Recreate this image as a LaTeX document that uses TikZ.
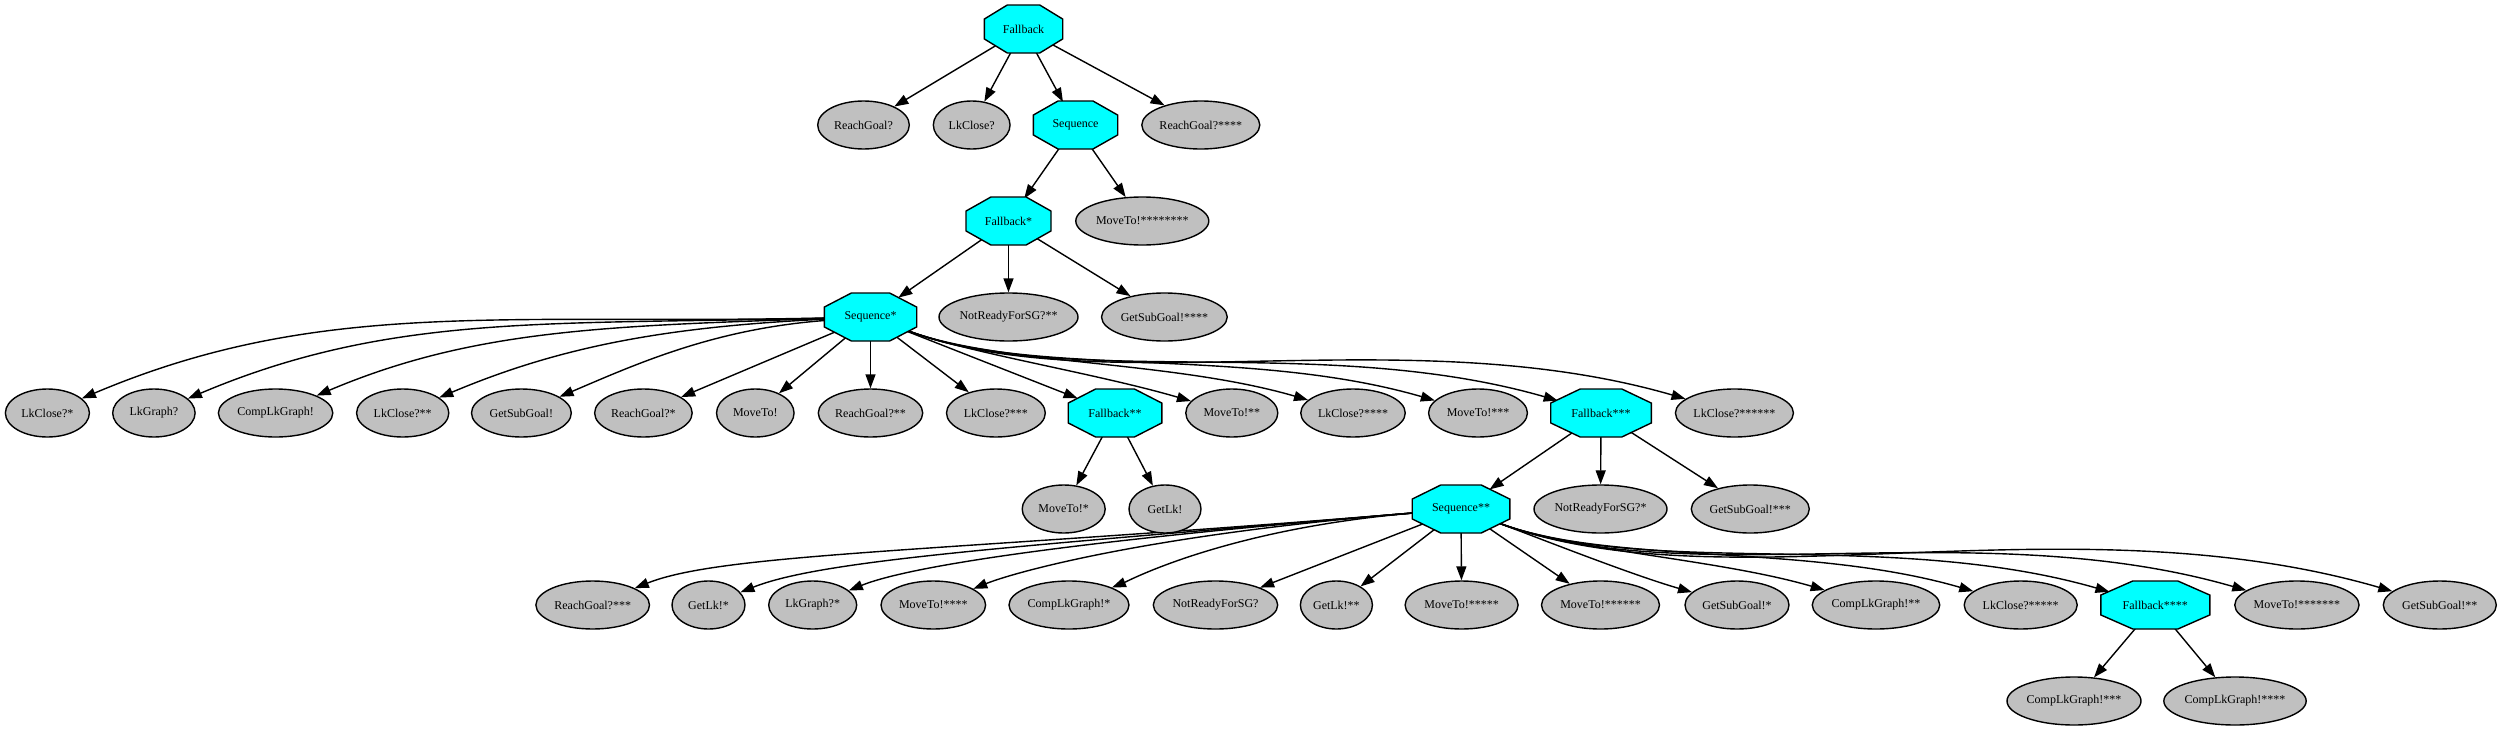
\documentclass[tikz,border=0pt]{standalone}
\usepackage{fontspec}
\setmainfont{Liberation Serif}
\usetikzlibrary{arrows.meta,shapes.geometric,backgrounds}
\definecolor{leafgray}{RGB}{192,192,192}
\definecolor{octcyan}{RGB}{0,255,255}
\tikzset{
  leaf/.style={ellipse, draw=black, line width=1.4pt, fill=leafgray, minimum height=48pt, inner sep=0pt, font=\fontsize{12}{14}\selectfont},
  octnode/.style={ellipse, draw=none, minimum height=48pt, inner sep=0pt, font=\fontsize{12}{14}\selectfont},
  octshape/.style={draw=black, line width=1.4pt, fill=octcyan, line join=miter},
  conn/.style={draw=black, line width=1.4pt, -{Triangle[length=14pt,width=10pt]}},
}
\newcommand\mkleaf[5]{\node[leaf, minimum width=#4pt] (#1) at (#2,#3) {#5};}
\newcommand\mkoct[5]{%
  \filldraw[octshape] ({#2-0.5*#4},{#3+9.94}) -- ({#2-0.207*#4},{#3+24}) -- ({#2+0.207*#4},{#3+24}) -- ({#2+0.5*#4},{#3+9.94}) -- ({#2+0.5*#4},{#3-9.94}) -- ({#2+0.207*#4},{#3-24}) -- ({#2-0.207*#4},{#3-24}) -- ({#2-0.5*#4},{#3-9.94}) -- cycle;
  \node[octnode, minimum width=#4pt] (#1) at (#2,#3) {#5};}
\begin{document}
\begin{tikzpicture}[x=1pt,y=1pt]
\useasboundingbox (0,0) rectangle (2501,-731);
% row 0
\mkoct{fb0}{1023.5}{-29}{78.4}{Fallback}
% row 1
\mkleaf{rg0}{863.5}{-125}{91.6}{ReachGoal?}
\mkleaf{lc0}{971.7}{-125}{76.7}{LkClose?}
\mkoct{sq0}{1075.5}{-125}{84.4}{Sequence}
\mkleaf{rg4}{1200.8}{-125}{118}{ReachGoal?****}
% row 2
\mkoct{fb1}{1008.5}{-221}{85}{Fallback*}
\mkleaf{mt8}{1142.3}{-221}{133}{MoveTo!********}
% row 3
\mkoct{sq1}{870.5}{-317}{92.4}{Sequence*}
\mkleaf{nr2}{1008.5}{-317}{139}{NotReadyForSG?**}
\mkleaf{gs4}{1164.4}{-317}{125.7}{GetSubGoal!****}
% row 4
\mkleaf{lc1}{47.4}{-413}{84}{LkClose?*}
\mkleaf{lg0}{153.9}{-413}{82.4}{LkGraph?}
\mkleaf{cg0}{275.6}{-413}{114.4}{CompLkGraph!}
\mkleaf{lc2}{402.7}{-413}{92.2}{LkClose?**}
\mkleaf{gs0}{521.4}{-413}{99.8}{GetSubGoal!}
\mkleaf{rg1}{643.4}{-413}{97.5}{ReachGoal?*}
\mkleaf{mt0}{755.3}{-413}{77.5}{MoveTo!}
\mkleaf{rg2}{870.5}{-413}{104.4}{ReachGoal?**}
\mkleaf{lc3}{995.9}{-413}{98.8}{LkClose?***}
\mkoct{fb2}{1115}{-413}{93.6}{Fallback**}
\mkleaf{mt2}{1231.8}{-413}{92}{MoveTo!**}
\mkleaf{lc4}{1353}{-413}{104.5}{LkClose?****}
\mkleaf{mt3}{1478}{-413}{98.8}{MoveTo!***}
\mkoct{fb3}{1601}{-413}{100.6}{Fallback***}
\mkleaf{lc6}{1734.4}{-413}{118}{LkClose?******}
% row 5
\mkleaf{mt1}{1063.7}{-509}{83}{MoveTo!*}
\mkleaf{gl0}{1165}{-509}{72}{GetLk!}
\mkoct{sq2}{1461}{-509}{97.6}{Sequence**}
\mkleaf{nr1}{1600.5}{-509}{133}{NotReadyForSG?*}
\mkleaf{gs3}{1750.3}{-509}{118}{GetSubGoal!***}
% row 6
\mkleaf{rg3}{592.7}{-605}{113.6}{ReachGoal?***}
\mkleaf{gl1}{708.5}{-605}{73}{GetLk!*}
\mkleaf{lg1}{812.7}{-605}{88}{LkGraph?*}
\mkleaf{mt4}{933.3}{-605}{104.6}{MoveTo!****}
\mkleaf{cg1}{1069}{-605}{120}{CompLkGraph!*}
\mkleaf{nr0}{1215.5}{-605}{124.4}{NotReadyForSG?}
\mkleaf{gl2}{1336.4}{-605}{72}{GetLk!**}
\mkleaf{mt5}{1461.6}{-605}{113}{MoveTo!*****}
\mkleaf{mt6}{1600.5}{-605}{118}{MoveTo!******}
\mkleaf{gs1}{1737}{-605}{104}{GetSubGoal!*}
\mkleaf{cg2}{1876}{-605}{127.5}{CompLkGraph!**}
\mkleaf{lc5}{2020.7}{-605}{113}{LkClose?*****}
\mkoct{fb4}{2155.3}{-605}{109}{Fallback****}
\mkleaf{mt7}{2296.9}{-605}{124.3}{MoveTo!*******}
\mkleaf{gs2}{2439.8}{-605}{113}{GetSubGoal!**}
% row 7
\mkleaf{cg3}{2074}{-701}{134}{CompLkGraph!***}
\mkleaf{cg4}{2235}{-701}{141}{CompLkGraph!****}

\begin{pgfonlayer}{background}
% Fallback
\draw[conn] (fb0) -- (rg0);
\draw[conn] (fb0) -- (lc0);
\draw[conn] (fb0) -- (sq0);
\draw[conn] (fb0) -- (rg4);
% Sequence
\draw[conn] (sq0) -- (fb1);
\draw[conn] (sq0) -- (mt8);
% Fallback*
\draw[conn] (fb1) -- (sq1);
\draw[conn] (fb1) -- (nr2);
\draw[conn] (fb1) -- (gs4);
% Sequence*
\draw[conn] (sq1) .. controls +(-370,-8) and +(272,115) .. (lc1);
\draw[conn] (sq1) .. controls +(-322,-8) and +(236,100) .. (lg0);
\draw[conn] (sq1) .. controls +(-268,-9) and +(196,83) .. (cg0);
\draw[conn] (sq1) .. controls +(-210,-10) and +(154,65) .. (lc2);
\draw[conn] (sq1) .. controls +(-157,-12) and +(115,49) .. (gs0);
\draw[conn] (sq1) -- (rg1);
\draw[conn] (sq1) -- (mt0);
\draw[conn] (sq1) -- (rg2);
\draw[conn] (sq1) -- (lc3);
\draw[conn] (sq1) -- (fb2);
\draw[conn] (sq1) .. controls +(98,-36) and +(-137,40) .. (mt2);
\draw[conn] (sq1) .. controls +(130,-48) and +(-183,53) .. (lc4);
\draw[conn] (sq1) .. controls +(164,-61) and +(-231,67) .. (mt3);
\draw[conn] (sq1) .. controls +(197,-73) and +(-278,80) .. (fb3);
\draw[conn] (sq1) .. controls +(233,-86) and +(-328,95) .. (lc6);
% Fallback**
\draw[conn] (fb2) -- (mt1);
\draw[conn] (fb2) -- (gl0);
% Fallback***
\draw[conn] (fb3) -- (sq2);
\draw[conn] (fb3) -- (nr1);
\draw[conn] (fb3) -- (gs3);
% Sequence**
\draw[conn] (sq2) .. controls +(-521,-43) and +(130,52) .. (rg3);
\draw[conn] (sq2) .. controls +(-452,-38) and +(113,45) .. (gl1);
\draw[conn] (sq2) .. controls +(-389,-32) and +(97,39) .. (lg1);
\draw[conn] (sq2) .. controls +(-317,-26) and +(79,32) .. (mt4);
\draw[conn] (sq2) .. controls +(-235,-20) and +(59,24) .. (cg1);
\draw[conn] (sq2) -- (nr0);
\draw[conn] (sq2) -- (gl2);
\draw[conn] (sq2) -- (mt5);
\draw[conn] (sq2) -- (mt6);
\draw[conn] (sq2) .. controls +(75,-28) and +(-105,30) .. (gs1);
\draw[conn] (sq2) .. controls +(112,-42) and +(-158,46) .. (cg2);
\draw[conn] (sq2) .. controls +(151,-56) and +(-213,62) .. (lc5);
\draw[conn] (sq2) .. controls +(187,-69) and +(-264,76) .. (fb4);
\draw[conn] (sq2) .. controls +(226,-84) and +(-318,92) .. (mt7);
\draw[conn] (sq2) .. controls +(264,-98) and +(-372,108) .. (gs2);
% Fallback****
\draw[conn] (fb4) -- (cg3);
\draw[conn] (fb4) -- (cg4);
\end{pgfonlayer}
\end{tikzpicture}
\end{document}
